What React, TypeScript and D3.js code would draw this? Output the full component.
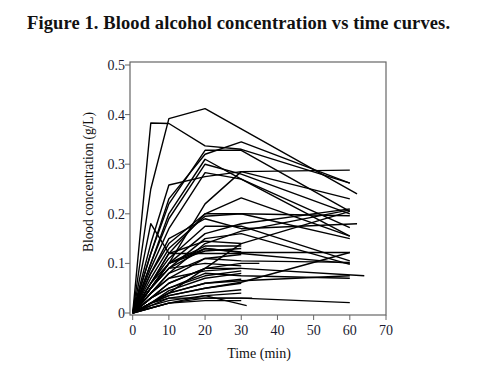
import { line, scaleLinear } from "d3";

type Pt = [number, number];

// time (min) vs blood concentration (g/L), one array per subject
const s01: Pt[] = [[0, 0], [5, 0.383], [10, 0.382], [20, 0.337], [30, 0.33], [60, 0.262]];
const s02: Pt[] = [[0, 0], [5, 0.25], [10, 0.392], [20, 0.412], [62, 0.24]];
const s03: Pt[] = [[0, 0], [5, 0.12], [10, 0.22], [20, 0.328], [30, 0.328], [60, 0.205]];
const s04: Pt[] = [[0, 0], [5, 0.1], [10, 0.2], [20, 0.31], [30, 0.27], [60, 0.155]];
const s05: Pt[] = [[0, 0], [5, 0.12], [10, 0.23], [20, 0.32], [30, 0.345], [60, 0.262]];
const s06: Pt[] = [[0, 0], [5, 0.14], [10, 0.258], [20, 0.275], [30, 0.285], [60, 0.288]];
const s07: Pt[] = [[0, 0], [5, 0.09], [10, 0.17], [20, 0.283], [30, 0.27], [60, 0.172]];
const s08: Pt[] = [[0, 0], [5, 0.05], [10, 0.1], [20, 0.22], [30, 0.285], [60, 0.23]];
const s09: Pt[] = [[0, 0], [5, 0.06], [10, 0.12], [20, 0.2], [30, 0.232], [60, 0.155]];
const s10: Pt[] = [[0, 0], [5, 0.07], [10, 0.13], [20, 0.195], [30, 0.2], [60, 0.15]];
const s11: Pt[] = [[0, 0], [5, 0.06], [10, 0.11], [20, 0.175], [30, 0.175], [60, 0.105]];
const s12: Pt[] = [[0, 0], [5, 0.05], [10, 0.1], [20, 0.16], [30, 0.18], [60, 0.21]];
const s13: Pt[] = [[0, 0], [5, 0.04], [10, 0.08], [20, 0.14], [30, 0.165], [60, 0.208]];
const s14: Pt[] = [[0, 0], [5, 0.02], [10, 0.04], [20, 0.09], [30, 0.14], [60, 0.205]];
const s15: Pt[] = [[0, 0], [5, 0.18], [10, 0.12], [20, 0.12], [30, 0.12], [60, 0.1]];
const s16: Pt[] = [[0, 0], [5, 0.05], [10, 0.09], [20, 0.15], [30, 0.16], [60, 0.098]];
const s17: Pt[] = [[0, 0], [5, 0.05], [10, 0.09], [20, 0.13], [30, 0.122], [60, 0.122]];
const s18: Pt[] = [[0, 0], [5, 0.03], [10, 0.06], [20, 0.09], [30, 0.09], [64, 0.075]];
const s19: Pt[] = [[0, 0], [5, 0.03], [10, 0.05], [20, 0.08], [30, 0.075], [60, 0.07]];
const s20: Pt[] = [[0, 0], [5, 0.02], [10, 0.04], [20, 0.06], [30, 0.065], [60, 0.075]];
const s21: Pt[] = [[0, 0], [5, 0.02], [10, 0.03], [20, 0.03], [30, 0.03], [60, 0.021]];
const s22: Pt[] = [[0, 0], [5, 0.04], [10, 0.07], [20, 0.11], [30, 0.105], [60, 0.102]];
const s23: Pt[] = [[0, 0], [5, 0.02], [10, 0.035], [20, 0.05], [30, 0.062], [60, 0.122]];
const s24: Pt[] = [[0, 0], [5, 0.08], [10, 0.15], [20, 0.19], [30, 0.17], [62, 0.18]];
const s25: Pt[] = [[0, 0], [5, 0.08], [10, 0.14], [20, 0.2], [30, 0.2], [60, 0.196]];
const s26: Pt[] = [[0, 0], [5, 0.1], [10, 0.19], [20, 0.3], [30, 0.28], [60, 0.2]];
const s27: Pt[] = [[0, 0], [5, 0.06], [10, 0.12], [20, 0.145], [30, 0.14]];
const s28: Pt[] = [[0, 0], [5, 0.05], [10, 0.1], [20, 0.135], [30, 0.135]];
const s29: Pt[] = [[0, 0], [5, 0.05], [10, 0.1], [20, 0.125], [30, 0.13]];
const s30: Pt[] = [[0, 0], [5, 0.04], [10, 0.08], [20, 0.11], [30, 0.118]];
const s31: Pt[] = [[0, 0], [5, 0.03], [10, 0.06], [20, 0.09], [30, 0.1], [35, 0.1]];
const s32: Pt[] = [[0, 0], [5, 0.03], [10, 0.05], [20, 0.075], [30, 0.085]];
const s33: Pt[] = [[0, 0], [5, 0.02], [10, 0.045], [20, 0.07], [30, 0.08]];
const s34: Pt[] = [[0, 0], [5, 0.02], [10, 0.035], [20, 0.05], [30, 0.06]];
const s35: Pt[] = [[0, 0], [5, 0.015], [10, 0.03], [20, 0.04], [30, 0.047]];
const s36: Pt[] = [[0, 0], [5, 0.015], [10, 0.025], [20, 0.035], [30, 0.04]];
const s37: Pt[] = [[0, 0], [5, 0.01], [10, 0.02], [20, 0.03], [33, 0.03]];
const s38: Pt[] = [[0, 0], [5, 0.01], [10, 0.02], [20, 0.035], [31.5, 0.015]];
const s39: Pt[] = [[0, 0], [5, 0.05], [10, 0.09], [20, 0.1], [30, 0.095]];
const s40: Pt[] = [[0, 0], [5, 0.04], [10, 0.07], [20, 0.085], [30, 0.09]];
const s41: Pt[] = [[0, 0], [5, 0.06], [10, 0.1], [20, 0.13], [30, 0.123]];
const s42: Pt[] = [[0, 0], [5, 0.02], [10, 0.04], [20, 0.06], [30, 0.068]];
const s43: Pt[] = [[0, 0], [5, 0.01], [10, 0.02], [20, 0.025], [30, 0.025]];

const subjects: Pt[][] = [
  s01, s02, s03, s04, s05, s06, s07, s08, s09, s10, s11, s12, s13, s14, s15,
  s16, s17, s18, s19, s20, s21, s22, s23, s24, s25, s26, s27, s28, s29, s30,
  s31, s32, s33, s34, s35, s36, s37, s38, s39, s40, s41, s42, s43,
];

const xTicks = [0, 10, 20, 30, 40, 50, 60, 70];
const yTicks = [0, 0.1, 0.2, 0.3, 0.4, 0.5];
const yTickLabels = ["0", "0.1", "0.2", "0.3", "0.4", "0.5"];

export default function App() {
  const width = 477;
  const height = 369;
  const box = { left: 130, right: 386, top: 62, bottom: 315 };

  const x = scaleLinear().domain([0, 70]).range([132.7, 386]);
  const y = scaleLinear().domain([0, 0.5]).range([313, 65]);

  const path = line<Pt>()
    .x((d) => x(d[0]))
    .y((d) => y(d[1]));

  const axisColor = "#666";
  const serif = "'Liberation Serif', 'Times New Roman', serif";

  return (
    <svg
      width={width}
      height={height}
      viewBox={`0 0 ${width} ${height}`}
      style={{ position: "absolute", left: 0, top: 0, background: "#fff" }}
      fontFamily={serif}
    >
      <text
        x={27}
        y={29}
        fontSize={18.5}
        fontWeight="bold"
        fill="#111"
        textLength={423}
        lengthAdjust="spacing"
      >
        Figure 1. Blood alcohol concentration vs time curves.
      </text>

      <rect
        x={box.left}
        y={box.top}
        width={box.right - box.left}
        height={box.bottom - box.top}
        fill="none"
        stroke={axisColor}
        strokeWidth={1.2}
      />

      <g>
        {xTicks.map((t) => (
          <g key={`x-${t}`}>
            <line x1={x(t)} x2={x(t)} y1={box.bottom} y2={box.bottom + 5} stroke={axisColor} />
            <text x={x(t)} y={335} fontSize={14} textAnchor="middle" fill="#1a1a30">
              {t}
            </text>
          </g>
        ))}
      </g>

      <g>
        {yTicks.map((v, i) => (
          <g key={`y-${v}`}>
            <line x1={box.left - 5} x2={box.left} y1={y(v)} y2={y(v)} stroke={axisColor} />
            <text x={125} y={y(v) + 5} fontSize={14} textAnchor="end" fill="#1a1a30">
              {yTickLabels[i]}
            </text>
          </g>
        ))}
      </g>

      <g fill="none" stroke="#000" strokeWidth={1.4} strokeLinejoin="round">
        {subjects.map((s, i) => (
          <path key={`s-${i}`} d={path(s) ?? ""} />
        ))}
      </g>

      <text x={259} y={358} fontSize={14} textAnchor="middle" fill="#111">
        Time (min)
      </text>
      <text
        transform="translate(93, 182) rotate(-90)"
        fontSize={14}
        textAnchor="middle"
        fill="#111"
        textLength={140}
        lengthAdjust="spacingAndGlyphs"
      >
        Blood concentration (g/L)
      </text>
    </svg>
  );
}
